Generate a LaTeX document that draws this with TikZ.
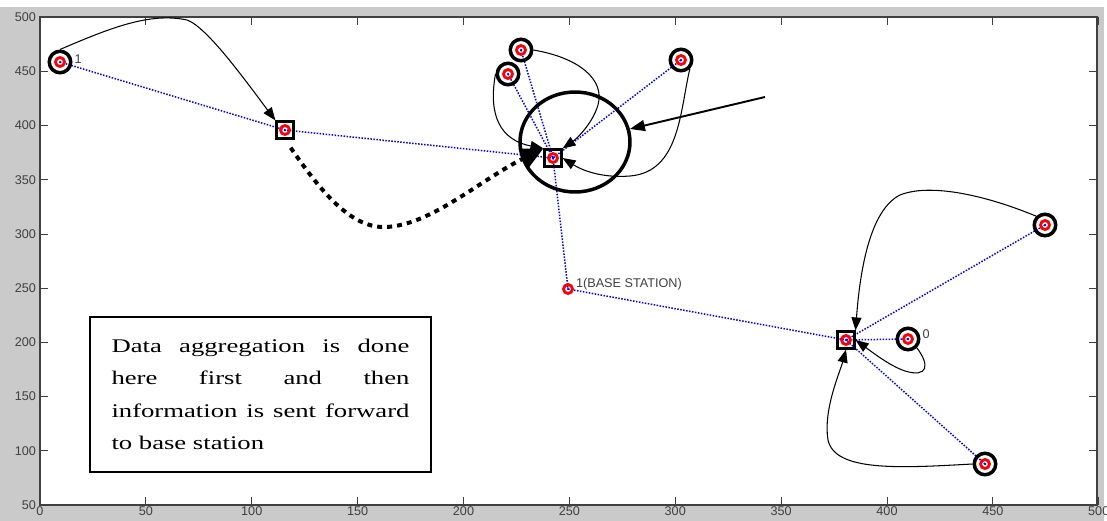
\documentclass[tikz,border=0pt]{standalone}
\usepackage{fontspec}
\setmainfont{Liberation Serif}
\newfontfamily\axisfont{Liberation Sans}
\newfontfamily\notefont[FakeStretch=1.38]{Liberation Serif}
\usepackage{tikz}
\usetikzlibrary{arrows.meta, shapes.geometric}

\definecolor{figgray}{RGB}{202,202,202}
\definecolor{ticktext}{RGB}{64,64,64}

\pgfdeclarelayer{back}
\pgfdeclarelayer{links}
\pgfsetlayers{back,links,main}

\tikzset{
    mark dot/.style={path picture={
        \draw[red, line width=1.6pt] (path picture bounding box.center) circle (0.09cm);
        \fill[blue] (path picture bounding box.center) circle (0.025cm);}},
    sensor/.style={circle, draw, line width=2pt, minimum size=0.43cm, inner sep=0pt, mark dot},
    head/.style={rectangle, draw, line width=1.5pt, minimum size=0.33cm, inner sep=0pt, mark dot},
    sink/.style={circle, minimum size=0.27cm, inner sep=0pt, mark dot},
    link/.style={blue, line width=0.03cm, dash pattern=on 0.03cm off 0.03cm},
    route/.style={black, line width=0.6pt, -{Triangle[length=0.26cm, width=0.2cm]}},
    flow/.style={black, line width=0.08cm, dash pattern=on 0.1cm off 0.1cm, -{Triangle[length=0.45cm, width=0.42cm]}},
    tag/.style={font=\axisfont\fontsize{7.2}{8}\selectfont, text=ticktext, inner sep=1pt}
}

\begin{document}
\begin{tikzpicture}[x=0.02cm, y=-0.02cm]
\useasboundingbox (0,0) rectangle (1107,521);

% figure frame and axes
\begin{pgfonlayer}{back}
    \fill[figgray] (0,7) rectangle (1104,521);
    \fill[white] (40,17) rectangle (1097,505);
    \draw[ticktext, line width=0.6pt] (40,17) rectangle (1097,505);
    \foreach \v in {0,50,...,500} {
        \draw[ticktext, line width=0.5pt] ({40+2.1175*\v},505) -- ++(0,-8) ({40+2.1175*\v},17) -- ++(0,8);
        \node[tag, anchor=north] (xl\v) at ({40+2.1175*\v},505) {\v};
    }
    \foreach \v in {50,100,...,500} {
        \draw[ticktext, line width=0.5pt] (40,{505-1.084*(\v-50)}) -- ++(8,0) (1097,{505-1.084*(\v-50)}) -- ++(-8,0);
        \node[tag, anchor=east] (yl\v) at (38,{505-1.084*(\v-50)}) {\v};
    }
\end{pgfonlayer}

% nodes
\node[sensor] (s1) at (60,62) {};
\node[head] (h1) at (285,130) {};
\node[sensor] (s2) at (521,50) {};
\node[sensor] (s3) at (508,74) {};
\node[sensor] (s4) at (681,60) {};
\node[head] (h2) at (553,158) {};
\node[sink] (bs) at (568,289) {};
\node[head] (h3) at (846,340) {};
\node[sensor] (s5) at (1045,225) {};
\node[sensor] (s6) at (908,339) {};
\node[sensor] (s7) at (985,464) {};

\node[tag, anchor=west] (s1tag) at ([yshift=0.06cm]s1.east) {1};
\node[tag, anchor=west] (s6tag) at ([yshift=0.1cm]s6.east) {0};
\node[tag, anchor=west] (bstag) at ([xshift=0.12cm, yshift=0.1cm]bs.center) {1(BASE STATION)};

% cluster links
\begin{pgfonlayer}{links}
    \draw[link] (s1.center) -- (h1.center) -- (h2.center);
    \draw[link] (s2.center) -- (h2.center);
    \draw[link] (s3.center) -- (h2.center);
    \draw[link] (s4.center) -- (h2.center);
    \draw[link] (h2.center) -- (bs.center) -- (h3.center);
    \draw[link] (s5.center) -- (h3.center);
    \draw[link] (s6.center) -- (h3.center);
    \draw[link] (s7.center) -- (h3.center);
\end{pgfonlayer}

% routes to the heads
\draw[route] (s1.north) .. controls (110,28) and (150,12) .. (187,20) .. controls (207,27) and (245,80) .. (h1.north west);
\draw[route] (s3.west) .. controls (488,115) and (500,140) .. (h2.north west);
\draw[route] (s2.east) .. controls (580,58) and (605,80) .. (598,105) .. controls (592,125) and (575,140) .. (h2.north east);
\draw[route] (s4.south east) .. controls (680,110) and (680,172) .. (630,176) .. controls (605,178) and (585,172) .. (h2.east);
\draw[route] (s5.north west) .. controls (985,195) and (930,183) .. (900,195) .. controls (870,210) and (860,270) .. (h3.north east);
\draw[route] (s6.south east) .. controls (930,365) and (928,378) .. (905,371) .. controls (890,366) and (872,352) .. (h3.east);
\draw[route] (s7.west) .. controls (900,468) and (835,472) .. (828,440) .. controls (823,410) and (840,372) .. (h3.south);

% head to head
\draw[flow, shorten <=0.2cm] (h1.south) .. controls (320,190) and (350,228) .. (385,227) .. controls (430,226) and (480,180) .. (h2.north west);

% highlight
\node[draw, ellipse, line width=0.07cm, minimum width=2.2cm, minimum height=2cm] (focus) at (575,142) {};
\coordinate (pointer) at (765,97);
\draw[line width=1.1pt, -{Triangle[length=0.3cm, width=0.22cm]}] (pointer) -- (focus);

\node[draw, line width=1pt, minimum width=6.82cm, minimum height=3.1cm, text width=5.96cm, inner sep=0pt, align=justify,
      font=\notefont\fontsize{11}{18.4}\selectfont] (note) at (260.5,394.5)
    {Data aggregation is done\linebreak here first and then\linebreak information is sent forward\linebreak to base station};
\end{tikzpicture}
\end{document}
